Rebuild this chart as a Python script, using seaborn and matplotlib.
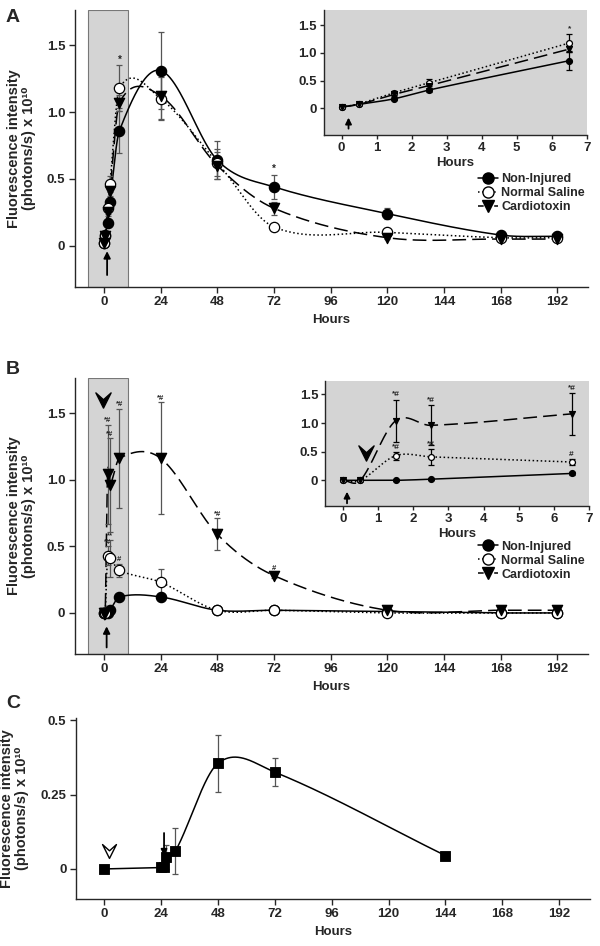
import numpy as np
import pandas as pd
import matplotlib
matplotlib.use("Agg")
import matplotlib.pyplot as plt
import seaborn as sns
from matplotlib.lines import Line2D
from matplotlib.path import Path

# ---- data (hours, fluorescence x 1e10) ----
hours = [0, 0.5, 1.5, 2.5, 6.5, 24, 48, 72, 120, 168, 192]

a_non_injured = [0.02, 0.07, 0.17, 0.33, 0.86, 1.31, 0.64, 0.44, 0.24, 0.08, 0.07]
a_non_injured_err = [0.01, 0.02, 0.03, 0.04, 0.17, 0.29, 0.14, 0.09, 0.04, 0.02, 0.02]
a_saline = [0.02, 0.08, 0.28, 0.46, 1.18, 1.10, 0.62, 0.14, 0.10, 0.06, 0.06]
a_saline_err = [0.01, 0.02, 0.04, 0.06, 0.17, 0.16, 0.10, 0.02, 0.02, 0.01, 0.01]
a_cardiotoxin = [0.02, 0.07, 0.25, 0.41, 1.07, 1.12, 0.60, 0.28, 0.06, 0.05, 0.05]
a_cardiotoxin_err = [0.01, 0.02, 0.03, 0.05, 0.06, 0.17, 0.10, 0.05, 0.01, 0.01, 0.01]

b_non_injured = [0.0, 0.0, 0.0, 0.02, 0.12, 0.12, 0.02, 0.02, 0.01, 0.0, 0.0]
b_non_injured_err = [0.01, 0.01, 0.01, 0.01, 0.02, 0.02, 0.01, 0.01, 0.01, 0.01, 0.01]
b_saline = [0.0, 0.0, 0.43, 0.41, 0.32, 0.23, 0.02, 0.02, 0.0, 0.0, 0.0]
b_saline_err = [0.01, 0.01, 0.07, 0.14, 0.05, 0.10, 0.01, 0.01, 0.01, 0.01, 0.01]
b_cardiotoxin = [0.0, 0.0, 1.04, 0.96, 1.16, 1.16, 0.59, 0.28, 0.02, 0.02, 0.02]
b_cardiotoxin_err = [0.01, 0.01, 0.37, 0.35, 0.37, 0.42, 0.12, 0.02, 0.01, 0.01, 0.01]

# significance marks (series, index in hours, label)
a_marks_main = [("saline", 4, "*"), ("non_injured", 7, "*")]
a_marks_inset = [("saline", 4, "*")]
b_marks_main = [("cardiotoxin", 2, "*#"), ("cardiotoxin", 3, "*#"), ("cardiotoxin", 4, "*#"),
                ("cardiotoxin", 5, "*#"), ("cardiotoxin", 6, "*#"), ("cardiotoxin", 7, "#"),
                ("saline", 2, "*#"), ("saline", 3, "**"), ("saline", 4, "#")]
b_marks_inset = [("cardiotoxin", 2, "*#"), ("cardiotoxin", 3, "*#"), ("cardiotoxin", 4, "*#"),
                 ("saline", 2, "*#"), ("saline", 3, "*#"), ("saline", 4, "#")]

c_hours = [0, 24, 25, 26, 30, 48, 72, 144]
c_values = [0.0, 0.005, 0.005, 0.04, 0.06, 0.355, 0.325, 0.045]
c_err = [0.005, 0.005, 0.005, 0.04, 0.078, 0.095, 0.047, 0.008]

labels = ["Non-Injured", "Normal Saline", "Cardiotoxin"]


def smooth(x, y, per_seg=200):
    # cubic Hermite curve through the points, Catmull-Rom style tangents
    x = np.asarray(x, float)
    y = np.asarray(y, float)
    m = np.zeros_like(y)
    m[1:-1] = (y[2:] - y[:-2]) / (x[2:] - x[:-2])
    m[0] = (y[1] - y[0]) / (x[1] - x[0])
    m[-1] = (y[-1] - y[-2]) / (x[-1] - x[-2])
    xs_all, ys_all = [], []
    for i in range(len(x) - 1):
        h = x[i + 1] - x[i]
        t = np.linspace(0, 1, per_seg)
        h00 = 2 * t ** 3 - 3 * t ** 2 + 1
        h10 = t ** 3 - 2 * t ** 2 + t
        h01 = -2 * t ** 3 + 3 * t ** 2
        h11 = t ** 3 - t ** 2
        xs_all.append(x[i] + t * h)
        ys_all.append(h00 * y[i] + h10 * h * m[i] + h01 * y[i + 1] + h11 * h * m[i + 1])
    return np.concatenate(xs_all), np.concatenate(ys_all)


sns.set_style("ticks")
plt.rcParams["font.family"] = ["Liberation Sans", "DejaVu Sans"]
plt.rcParams["font.weight"] = "bold"
plt.rcParams["axes.labelweight"] = "bold"
plt.rcParams["axes.linewidth"] = 1.0
plt.rcParams["xtick.major.width"] = 1.0
plt.rcParams["ytick.major.width"] = 1.0

fig = plt.figure(figsize=(6, 9.46), dpi=100)

styles = {
    "non_injured": dict(ls="-", marker="o", fc="black", dashes=None),
    "saline": dict(ls=":", marker="o", fc="white", dashes=None),
    "cardiotoxin": dict(ls="--", marker="v", fc="black", dashes=(9, 4)),
}

chevron = Path([(-1, 1), (0, -1), (1, 1), (0, 0.1), (-1, 1)],
               [Path.MOVETO, Path.LINETO, Path.LINETO, Path.LINETO, Path.CLOSEPOLY])
ylab = "Fluorescence intensity\n(photons/s) x 10¹⁰"


def draw_series(ax, x, y, err, key, ms, ecol, inset=False):
    st = styles[key]
    xs, ys = smooth(x, y)
    line, = ax.plot(xs, ys, color="black", lw=1.1, ls=st["ls"], zorder=2)
    if st["dashes"]:
        line.set_dashes(st["dashes"])
    ax.errorbar(x, y, yerr=err, fmt="none", ecolor=ecol, elinewidth=0.9,
                capsize=2.5 if inset else 2, capthick=0.9, zorder=3)
    sns.scatterplot(x=x, y=y, ax=ax, marker=st["marker"], color=st["fc"],
                    edgecolor="black", linewidth=0.9, s=ms, zorder=4, legend=False)


def add_marks(ax, marks, data, errs, fs, dy):
    for key, i, txt in marks:
        ax.text(hours[i], data[key][i] + errs[key][i] + dy, txt, ha="center",
                va="bottom", fontsize=fs, fontweight="bold")


def style_main(ax, ylim):
    ax.set_xlim(-12.3, 205)
    ax.set_ylim(*ylim)
    ax.set_xticks(range(0, 193, 24))
    ax.set_xlabel("Hours", fontsize=9.5, labelpad=4)
    ax.tick_params(labelsize=9.5, length=4, pad=3)
    sns.despine(ax=ax)


def style_inset(ax, ylim):
    ax.set_facecolor("#d4d4d4")
    ax.set_xlim(-0.5, 7.0)
    ax.set_ylim(*ylim)
    ax.set_xticks(range(0, 8))
    ax.set_yticks([0, 0.5, 1.0, 1.5])
    ax.set_yticklabels(["0", "0.5", "1.0", "1.5"])
    ax.set_xlabel("Hours", fontsize=9.5, labelpad=2)
    ax.tick_params(labelsize=9.5, length=3, pad=2)
    sns.despine(ax=ax)


def legend(ax, anchor):
    handles = []
    for key in ["non_injured", "saline", "cardiotoxin"]:
        st = styles[key]
        h = Line2D([], [], color="black", ls=st["ls"], lw=1.1, marker=st["marker"],
                   markerfacecolor=st["fc"], markeredgecolor="black", markersize=8)
        handles.append(h)
    ax.legend(handles, labels, loc="upper left", bbox_to_anchor=anchor, frameon=False,
              fontsize=9, handlelength=1.6, handletextpad=0.3, labelspacing=0.15,
              borderaxespad=0, borderpad=0)


def panel(ax, ins, data, errs, marks_main, marks_inset, leg_anchor, ylim_in, mark_fs):
    ax.axvspan(-7, 10, facecolor="#d4d4d4", edgecolor="#777777", lw=0.8, zorder=0)
    for key in ["non_injured", "saline", "cardiotoxin"]:
        draw_series(ax, hours, data[key], errs[key], key, 55, "#555555")
    add_marks(ax, marks_main, data, errs, mark_fs, 0.005)
    style_main(ax, (-0.306, 1.76))
    ax.set_yticks([0, 0.5, 1.0, 1.5])
    ax.set_yticklabels(["0", "0.5", "1.0", "1.5"])
    ax.set_ylabel(ylab, fontsize=10.5, labelpad=8, linespacing=1.1)
    legend(ax, leg_anchor)

    for key in ["non_injured", "saline", "cardiotoxin"]:
        draw_series(ins, hours[:5], data[key][:5], errs[key][:5], key, 18, "black", inset=True)
    add_marks(ins, marks_inset, data, errs, 6, 0.02)
    style_inset(ins, ylim_in)


# ---- Panel A ----
axA = fig.add_axes([0.125, 0.697, 0.855, 0.292])
insA = fig.add_axes([0.54, 0.857, 0.438, 0.132])
dataA = {"non_injured": a_non_injured, "saline": a_saline, "cardiotoxin": a_cardiotoxin}
errA = {"non_injured": a_non_injured_err, "saline": a_saline_err, "cardiotoxin": a_cardiotoxin_err}
panel(axA, insA, dataA, errA, a_marks_main, a_marks_inset, (0.785, 0.41), (-0.49, 1.77), 7)
axA.annotate("", xy=(1.3, -0.02), xytext=(1.3, -0.24),
             arrowprops=dict(arrowstyle="-|>", color="black", lw=1.3, mutation_scale=10))
insA.annotate("", xy=(0.2, -0.12), xytext=(0.2, -0.42),
              arrowprops=dict(arrowstyle="-|>", color="black", lw=1.3, mutation_scale=9))

# ---- Panel B ----
axB = fig.add_axes([0.125, 0.309, 0.855, 0.291])
insB = fig.add_axes([0.542, 0.465, 0.44, 0.132])
dataB = {"non_injured": b_non_injured, "saline": b_saline, "cardiotoxin": b_cardiotoxin}
errB = {"non_injured": b_non_injured_err, "saline": b_saline_err, "cardiotoxin": b_cardiotoxin_err}
panel(axB, insB, dataB, errB, b_marks_main, b_marks_inset, (0.785, 0.41), (-0.45, 1.73), 5.5)
axB.annotate("", xy=(1.1, -0.08), xytext=(1.1, -0.28),
             arrowprops=dict(arrowstyle="-|>", color="black", lw=1.3, mutation_scale=10))
insB.annotate("", xy=(0.12, -0.15), xytext=(0.12, -0.45),
              arrowprops=dict(arrowstyle="-|>", color="black", lw=1.3, mutation_scale=9))
axB.scatter([-0.4], [1.6], marker=chevron, s=120, color="black", zorder=5)
insB.scatter([0.65], [0.47], marker=chevron, s=120, color="black", zorder=5)

# ---- Panel C ----
axC = fig.add_axes([0.127, 0.05, 0.856, 0.191])
xs, ys = smooth(c_hours, c_values)
axC.plot(xs, ys, color="black", lw=1.1, zorder=2)
axC.errorbar(c_hours, c_values, yerr=c_err, fmt="none", ecolor="#555555",
             elinewidth=0.9, capsize=2, capthick=0.9, zorder=3)
sns.scatterplot(x=c_hours, y=c_values, ax=axC, marker="s", color="black",
                edgecolor="black", s=60, zorder=4, legend=False)
axC.set_xlim(-11.9, 205)
axC.set_ylim(-0.10, 0.507)
axC.set_xticks(range(0, 193, 24))
axC.set_yticks([0, 0.25, 0.5])
axC.set_yticklabels(["0", "0.25", "0.5"])
axC.set_xlabel("Hours", fontsize=9.5, labelpad=4)
axC.set_ylabel(ylab, fontsize=10.5, labelpad=8, linespacing=1.1)
axC.tick_params(labelsize=9.5, length=4, pad=3)
sns.despine(ax=axC)
axC.scatter([1.8], [0.06], marker=chevron, s=100, facecolor="white",
            edgecolor="black", linewidth=1.0, zorder=5)
axC.annotate("", xy=(25.2, 0.035), xytext=(25.2, 0.13),
             arrowprops=dict(arrowstyle="-|>", color="black", lw=1.3, mutation_scale=9))

for lab, y in [("A", 0.99), ("B", 0.618), ("C", 0.265)]:
    fig.text(0.01, y, lab, fontsize=14, fontweight="bold", va="top")

fig.savefig("out.png", dpi=100)
